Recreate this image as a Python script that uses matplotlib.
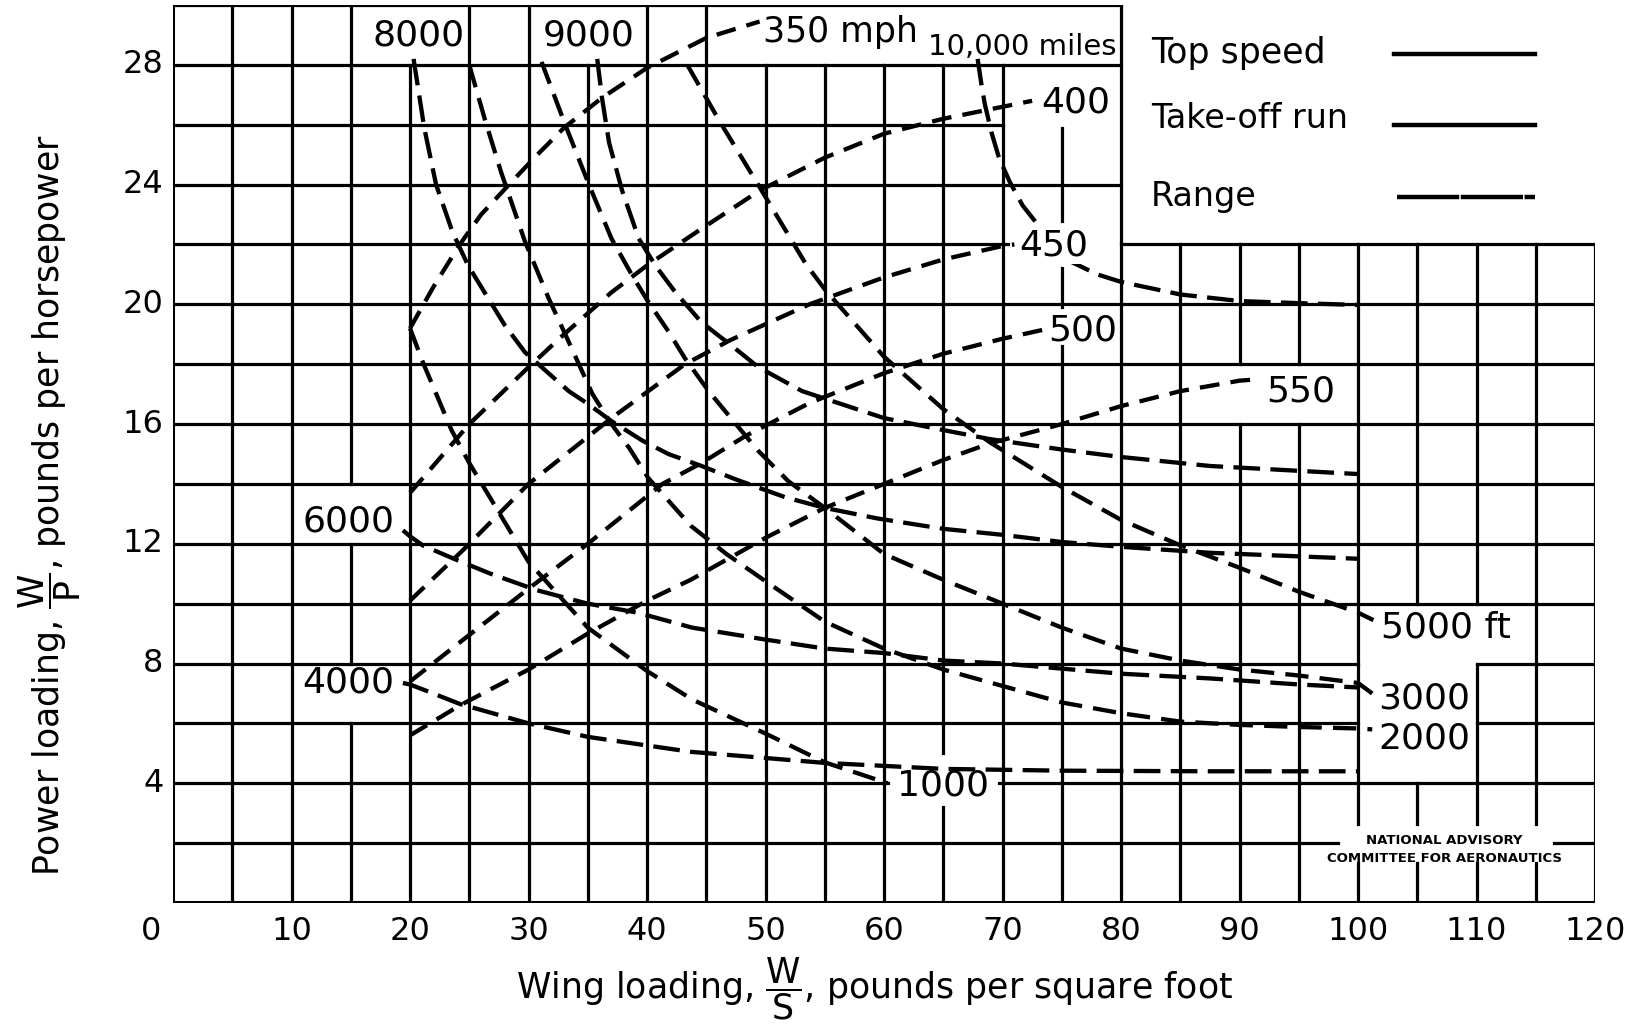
import matplotlib
matplotlib.use("Agg")
import matplotlib.pyplot as plt

plt.rcParams['font.family'] = ['DejaVu Sans']
plt.rcParams['mathtext.fontset'] = 'dejavusans'

# ---------------- data ----------------
# Top speed curves (mph)
speed_350_x = [20, 22, 24.2, 26, 28, 30.5, 33, 36.2, 40, 45, 49.5]
speed_350_y = [19.2, 20.6, 22.0, 23.0, 23.85, 24.9, 25.9, 26.9, 27.9, 28.9, 29.45]
speed_400_x = [20, 25, 30, 33, 37, 40, 44.5, 49.5, 55, 60, 65, 70, 72.5]
speed_400_y = [13.7, 16.0, 17.9, 19.0, 20.4, 21.3, 22.5, 23.8, 24.9, 25.7, 26.2, 26.6, 26.8]
speed_450_x = [20, 24.5, 30, 37, 43.2, 47, 53.7, 60, 65, 70, 71]
speed_450_y = [10.1, 11.8, 14.0, 16.2, 18.0, 18.8, 20.0, 20.9, 21.5, 21.95, 22.0]
speed_500_x = [20, 24.5, 30, 35, 41.3, 44.6, 48.3, 53.7, 60, 65, 70, 74]
speed_500_y = [7.4, 8.8, 10.5, 12.0, 14.0, 14.7, 15.6, 16.7, 17.7, 18.35, 18.85, 19.2]
speed_550_x = [20, 24.2, 30, 35, 40, 43.7, 50, 55, 60, 65, 68.9, 75, 80, 85, 90, 91.6]
speed_550_y = [5.6, 6.6, 7.8, 9.0, 10.1, 10.8, 12.2, 13.2, 14.0, 14.8, 15.35, 16.0, 16.6, 17.1, 17.45, 17.5]

# Take-off run curves (ft)
to_1000_x = [20, 21.1, 23.5, 25, 27.5, 30, 35, 40, 43.8, 50, 55, 60.3]
to_1000_y = [19.2, 18.05, 15.8, 14.7, 13.05, 11.4, 9.2, 7.75, 6.8, 5.66, 4.7, 4.0]
to_2000_x = [25, 26.3, 27.7, 29.7, 31.7, 33.1, 35.4, 37, 38.5, 40.1, 43.7, 46.7, 50,
             55, 60, 65, 70, 75, 80, 85, 90, 95, 100, 101.2]
to_2000_y = [28, 26.2, 24.4, 22.1, 20.2, 19.0, 17.0, 16.0, 15.2, 14.2, 12.6, 11.66, 10.75,
             9.4, 8.5, 7.8, 7.25, 6.7, 6.34, 6.06, 5.95, 5.88, 5.83, 5.8]
to_3000_x = [31.1, 33.1, 35.1, 37, 38.7, 40, 41.8, 43.2, 45.2, 47.5, 49.4, 51.9, 55,
             60, 65, 70, 75, 80, 85, 90, 95, 100, 101.2]
to_3000_y = [28.1, 26, 24, 22.2, 21, 20.15, 19.1, 18.2, 17.1, 16.0, 15.1, 14.1, 13.2,
             11.66, 10.8, 10.0, 9.2, 8.5, 8.1, 7.8, 7.6, 7.35, 7.0]
to_5000_x = [43.4, 46, 49.6, 53.4, 55, 60, 65, 68.9, 75, 80, 85, 90, 95, 100, 101.3]
to_5000_y = [28.0, 26.2, 23.85, 21.35, 20.5, 18.25, 16.5, 15.4, 13.9, 12.8, 11.95, 11.2, 10.4, 9.7, 9.45]

# Range curves (miles)
r_4000_x = [19.4, 20, 21.7, 24.2, 30, 35, 43.7, 55, 65, 75, 87.5, 100]
r_4000_y = [7.35, 7.3, 7.04, 6.65, 6.0, 5.55, 5.05, 4.68, 4.48, 4.42, 4.4, 4.4]
r_6000_x = [19.4, 20, 21.1, 23.7, 26.8, 30.7, 35, 39.2, 43.8, 50, 55, 60, 65, 70, 75, 80, 87.6, 95, 100]
r_6000_y = [12.45, 12.25, 11.94, 11.5, 11.0, 10.45, 10.0, 9.7, 9.2, 8.8, 8.5, 8.35, 8.1, 8.0,
            7.83, 7.66, 7.5, 7.3, 7.2]
r_8000_x = [20.3, 21.2, 22.2, 23.6, 24.9, 26.6, 28, 29.7, 31.4, 33.4, 35.1, 37, 39.6, 41.8,
            44.6, 47.5, 51.7, 55, 59.4, 65, 70, 75, 80, 87.5, 100]
r_8000_y = [28.2, 25.9, 24.0, 22.4, 21.3, 20.2, 19.3, 18.4, 17.8, 17.1, 16.65, 16.1, 15.45, 15.0,
            14.6, 14.15, 13.55, 13.2, 12.85, 12.5, 12.3, 12.06, 11.9, 11.7, 11.5]
r_9000_x = [35.8, 36.2, 36.8, 37.9, 39.3, 40.7, 42.4, 44.6, 47.2, 49.4, 53.1, 55, 60, 65, 68.9,
            75, 80, 87.5, 100]
r_9000_y = [28.2, 26.9, 25.4, 23.8, 22.2, 21.3, 20.4, 19.4, 18.6, 17.9, 17.1, 16.85, 16.2, 15.8,
            15.5, 15.15, 14.9, 14.6, 14.33]
r_10000_x = [67.9, 68.2, 68.5, 69.1, 69.7, 70.6, 71.7, 72.9, 75.9, 78, 80, 85, 90, 95, 100]
r_10000_y = [28.2, 27.4, 26.7, 25.7, 24.9, 24.1, 23.3, 22.7, 21.4, 21.0, 20.75, 20.33, 20.11, 20.04, 19.98]

x_ticks = [10, 20, 30, 40, 50, 60, 70, 80, 90, 100, 110, 120]
y_ticks = [4, 8, 12, 16, 20, 24, 28]

speed_curves = [(speed_350_x, speed_350_y), (speed_400_x, speed_400_y), (speed_450_x, speed_450_y),
                (speed_500_x, speed_500_y), (speed_550_x, speed_550_y)]
takeoff_curves = [(to_1000_x, to_1000_y), (to_2000_x, to_2000_y), (to_3000_x, to_3000_y),
                  (to_5000_x, to_5000_y)]
range_curves = [(r_4000_x, r_4000_y), (r_6000_x, r_6000_y), (r_8000_x, r_8000_y),
                (r_9000_x, r_9000_y), (r_10000_x, r_10000_y)]

# ---------------- figure ----------------
fig = plt.figure(figsize=(16.43, 10.26), dpi=100)
ax = fig.add_axes([0.1053, 0.1199, 0.8655, 0.8752])
ax.set_xlim(0, 120)
ax.set_ylim(0, 30)
ax.axis('off')

# grid with blank cells where labels sit
grid_gaps = [
    (15, 25, 28, 30), (30, 40, 28, 30), (45, 80, 28, 30),
    (70, 80, 25.9, 28), (70.5, 80, 21.2, 22.8), (70, 80, 18.6, 19.9),
    (87, 98, 16, 18), (100, 110, 4, 10), (100, 115, 8, 10),
    (98.3, 116.5, 1.35, 2.65), (60.3, 69.7, 3.2, 5.0),
    (10, 20, 12, 14), (10, 20, 6, 8),
]


def cut(lo, hi, holes):
    parts = [(lo, hi)]
    for a, b in holes:
        new = []
        for s, e in parts:
            if b <= s or a >= e:
                new.append((s, e))
                continue
            if a > s:
                new.append((s, a))
            if b < e:
                new.append((b, e))
        parts = new
    return parts


GLW = 2.3
for i in range(0, 25):
    xv = i * 5
    top = 30 if xv <= 80 else 22
    holes = [(g[2], g[3]) for g in grid_gaps if g[0] < xv < g[1]]
    lw = 2.9 if xv == 0 else GLW
    for s, e in cut(0, top, holes):
        ax.plot([xv, xv], [s, e], color='black', lw=lw, solid_capstyle='projecting', zorder=1)
for j in range(0, 16):
    yv = j * 2
    right = 120 if yv <= 22 else 80
    holes = [(g[0], g[1]) for g in grid_gaps if g[2] < yv < g[3]]
    lw = 2.9 if yv == 0 else GLW
    for s, e in cut(0, right, holes):
        ax.plot([s, e], [yv, yv], color='black', lw=lw, solid_capstyle='projecting', zorder=1)

# curves
CLW = 3.1
for cx, cy in speed_curves:
    ax.plot(cx, cy, color='black', lw=CLW, ls=(0, (4.6, 2.6)), dash_capstyle='butt', zorder=3)
for cx, cy in takeoff_curves:
    ax.plot(cx, cy, color='black', lw=CLW, ls=(0, (5.4, 2.6)), dash_capstyle='butt', zorder=3)
for cx, cy in range_curves:
    ax.plot(cx, cy, color='black', lw=CLW, ls=(0, (6.2, 2.4)), dash_capstyle='butt', zorder=3)

# curve labels
FS = 26
lab = dict(color='black', zorder=5, va='center')
ax.text(20.75, 28.97, '8000', ha='center', fontsize=FS, **lab)
ax.text(35.05, 28.97, '9000', ha='center', fontsize=FS, **lab)
ax.text(49.8, 29.1, '350 mph', ha='left', fontsize=25, **lab)
ax.text(71.7, 28.6, '10,000 miles', ha='center', fontsize=21, **lab)
ax.text(76.2, 26.73, '400', ha='center', fontsize=FS, **lab)
ax.text(74.3, 21.98, '450', ha='center', fontsize=FS,
        bbox=dict(facecolor='white', edgecolor='none', pad=1), **lab)
ax.text(76.8, 19.14, '500', ha='center', fontsize=FS, **lab)
ax.text(95.2, 17.1, '550', ha='center', fontsize=FS, **lab)
ax.text(14.8, 12.73, '6000', ha='center', fontsize=FS, **lab)
ax.text(14.75, 7.35, '4000', ha='center', fontsize=FS, **lab)
ax.text(65.0, 3.94, '1000', ha='center', fontsize=FS, **lab)
ax.text(101.9, 9.22, '5000 ft', ha='left', fontsize=FS, **lab)
ax.text(105.6, 6.82, '3000', ha='center', fontsize=FS, **lab)
ax.text(105.6, 5.48, '2000', ha='center', fontsize=FS, **lab)
ax.text(107.3, 1.8, 'NATIONAL ADVISORY\nCOMMITTEE FOR AERONAUTICS', ha='center',
        fontsize=9.5, fontweight='bold', linespacing=1.5, **lab)

# legend (drawn by hand as in the original)
ax.text(82.5, 28.4, 'Top speed', ha='left', fontsize=25, **lab)
ax.text(82.5, 26.2, 'Take-off run', ha='left', fontsize=24, **lab)
ax.text(82.5, 23.6, 'Range', ha='left', fontsize=24, **lab)
ax.plot([103, 114.9], [28.37, 28.37], color='black', lw=3.2, clip_on=False, zorder=3)
ax.plot([103, 114.9], [26.0, 26.0], color='black', lw=3.2, clip_on=False, zorder=3)
ax.plot([103.3, 114.9], [23.6, 23.6], color='black', lw=3.2, ls=(0, (14, 0.35)),
        clip_on=False, zorder=3)

# tick labels
for t in x_ticks:
    ax.text(t, -0.95, str(t), ha='center', va='center', fontsize=23, clip_on=False)
for t in y_ticks:
    ax.text(-0.8, t, str(t), ha='right', va='center', fontsize=23, clip_on=False)
ax.text(-1.86, -0.95, '0', ha='center', va='center', fontsize=23, clip_on=False)

# axis titles
fig.text(0.532, 0.036, r'Wing loading, $\dfrac{\mathrm{W}}{\mathrm{S}}$, pounds per square foot',
         ha='center', va='center', fontsize=25)
fig.text(0.030, 0.508, r'Power loading, $\dfrac{\mathrm{W}}{\mathrm{P}}$, pounds per horsepower',
         ha='center', va='center', rotation=90, fontsize=25)

fig.savefig('out.png', dpi=100, facecolor='white')
